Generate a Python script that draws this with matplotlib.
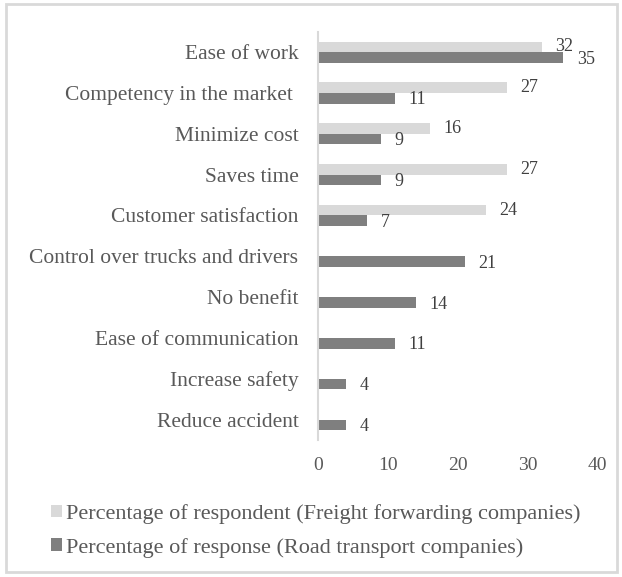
import numpy as np
import matplotlib.pyplot as plt
from matplotlib.patches import Rectangle

# survey benefits, top to bottom as listed
categories = [
    "Ease of work",
    "Competency in the market ",
    "Minimize cost",
    "Saves time",
    "Customer satisfaction",
    "Control over trucks and drivers",
    "No benefit",
    "Ease of communication",
    "Increase safety",
    "Reduce accident",
]
# None where the group gave no answer
freight_pct = [32, 27, 16, 27, 24, None, None, None, None, None]
road_pct = [35, 11, 9, 9, 7, 21, 14, 11, 4, 4]

LIGHT = "#d9d9d9"
DARK = "#7f7f7f"
TEXT = "#595959"
BAR_H = 0.26

plt.rcParams["font.family"] = ["Liberation Serif", "DejaVu Serif"]

fig = plt.figure(figsize=(6.22, 5.77), dpi=100)
ax = fig.add_axes([0.511, 0.2374, 0.45, 0.7076])

y = np.arange(len(categories))
fy = [i for i, v in zip(y, freight_pct) if v is not None]
fv = [v for v in freight_pct if v is not None]

ax.barh(np.array(fy) - BAR_H / 2, fv, height=BAR_H, color=LIGHT,
        label="Percentage of respondent (Freight forwarding companies)")
ax.barh(y + BAR_H / 2, road_pct, height=BAR_H, color=DARK,
        label="Percentage of response (Road transport companies)")

for yi, v in zip(fy, fv):
    ax.annotate(str(v), (v, yi - BAR_H / 2), xytext=(9.5, 0),
                textcoords="offset points", va="center", ha="left",
                fontsize=13, color="#404040")
for yi, v in zip(y, road_pct):
    ax.annotate(str(v), (v, yi + BAR_H / 2 + 0.04), xytext=(10, 0),
                textcoords="offset points", va="center", ha="left",
                fontsize=13, color="#404040")

ax.set_xlim(0, 40)
ax.set_xticks([0, 10, 20, 30, 40])
ax.set_ylim(len(categories) - 0.5, -0.5)
ax.set_yticks(y)
ax.set_yticklabels(categories)
ax.tick_params(axis="y", length=0, pad=14, labelsize=15.5, labelcolor=TEXT)
ax.tick_params(axis="x", length=0, pad=12, labelsize=14, labelcolor=TEXT)
for side in ["top", "right", "bottom"]:
    ax.spines[side].set_visible(False)
ax.spines["left"].set_color(LIGHT)
ax.spines["left"].set_linewidth(1.5)

handles, labels = ax.get_legend_handles_labels()
fig.legend(handles, labels, loc="upper left", bbox_to_anchor=(0.068, 0.142),
           frameon=False, fontsize=16, labelcolor=TEXT, handlelength=0.5,
           handleheight=0.5, handletextpad=0.15, labelspacing=0.62,
           borderaxespad=0)

# light frame round the whole figure
fig.patches.append(Rectangle((0.009, 0.008), 0.983, 0.985, transform=fig.transFigure,
                             fill=False, edgecolor=LIGHT, linewidth=2))

fig.savefig("out.png", dpi=100)
